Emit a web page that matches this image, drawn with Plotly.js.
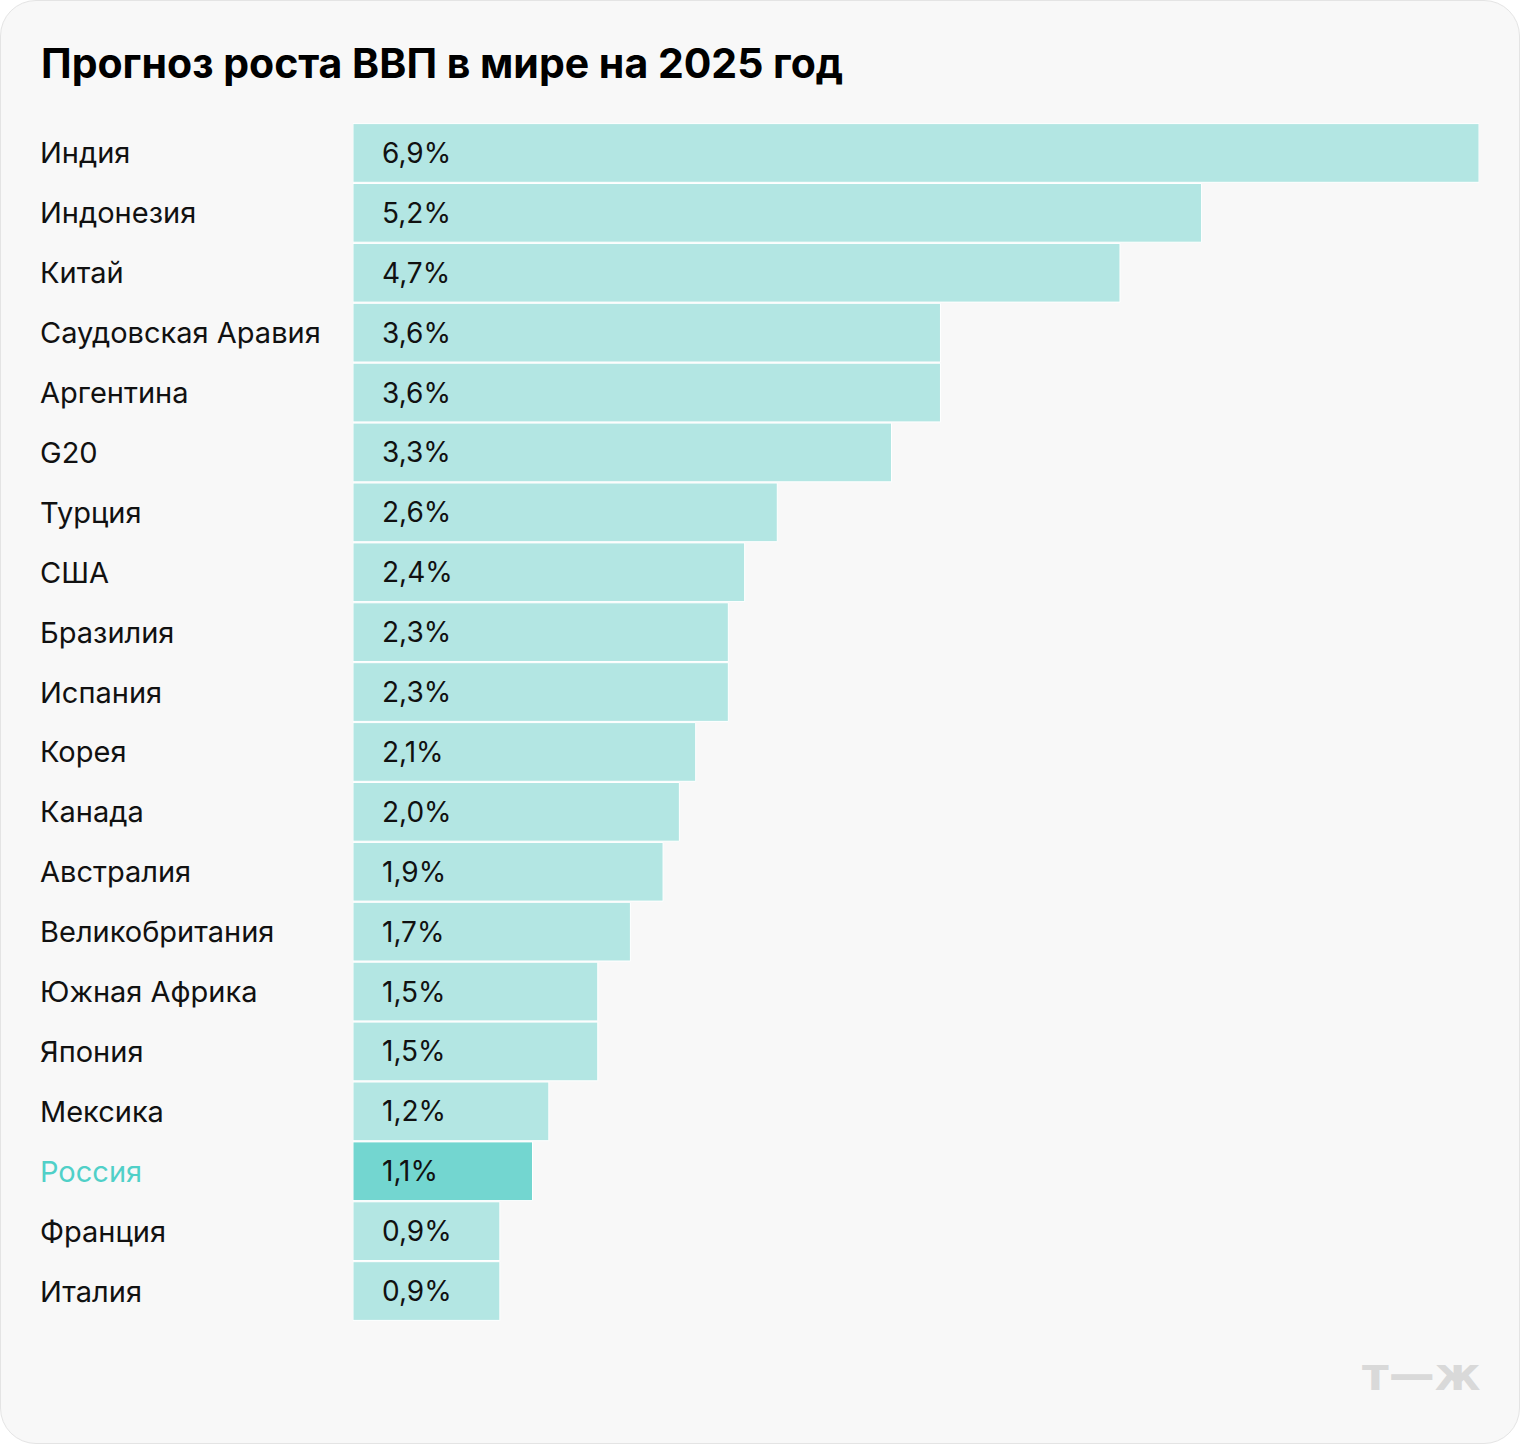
<!DOCTYPE html>
<html><head><meta charset="utf-8">
<script src="https://cdn.plot.ly/plotly-3.0.1.min.js"></script>
<style>
html,body{margin:0;padding:0;background:#ffffff;}
#wrap{position:absolute;left:0;top:0;width:1518px;height:1442px;border:1px solid #e4e4e4;border-radius:36px;background:#f8f8f8;overflow:hidden;}
#chart{width:1520px;height:1444px;position:absolute;left:-1px;top:-1px;}
</style></head>
<body><div id="wrap"><div id="chart"></div></div>
<script>
const countries = ["Индия","Индонезия","Китай","Саудовская Аравия","Аргентина","G20","Турция","США","Бразилия","Испания","Корея","Канада","Австралия","Великобритания","Южная Африка","Япония","Мексика","Россия","Франция","Италия"];
const growth = [6.9,5.2,4.7,3.6,3.6,3.3,2.6,2.4,2.3,2.3,2.1,2.0,1.9,1.7,1.5,1.5,1.2,1.1,0.9,0.9];
const highlight = "Россия";
const titleText = "Прогноз роста ВВП в мире на 2025 год";

const W=1520,H=1444,L=353,R=41,T=123,B=123;
const pw=W-L-R;
const fontFam = "Inter, Roboto, 'Noto Sans', sans-serif";
const colors = countries.map(c=>c===highlight?"#73d6d0":"#b3e6e3");
const fmt = v => v.toFixed(1).replace(".",",")+"%";

const ann = [];
countries.forEach((c,i)=>{
  ann.push({x:(38-L)/pw, xref:"paper", y:c, yref:"y", text:c, showarrow:false, xanchor:"left",
    font:{family:fontFam,size:29,color:c===highlight?"#50d0c8":"#111111"}});
  ann.push({x:0, xref:"x", y:c, yref:"y", text:fmt(growth[i]), showarrow:false, xanchor:"left", xshift:27,
    font:{family:fontFam,size:28,color:"#111111"}});
});
ann.push({x:1, xref:"paper", xanchor:"right", xshift:4, y:(H-1374-B)/(H-T-B), yref:"paper", yanchor:"middle",
  text:"<b>т—ж</b>", showarrow:false, font:{family:"'DejaVu Sans', sans-serif", size:46, color:"#d9d9d9"}});

Plotly.newPlot("chart",[{
  type:"bar", orientation:"h", x:growth, y:countries,
  marker:{color:colors, line:{color:"#ffffff", width:1}},
  hoverinfo:"none"
}],{
  width:W,height:H,
  margin:{l:L,r:R,t:T,b:B,pad:0},
  paper_bgcolor:"rgba(0,0,0,0)", plot_bgcolor:"rgba(0,0,0,0)",
  bargap:0.02,
  title:{text:"<b>"+titleText+"</b>", x:41/W, xanchor:"left", xref:"container", y:1-64/H, yref:"container", yanchor:"middle",
    font:{family:fontFam,size:41,color:"#000000"}},
  xaxis:{range:[0,6.9], visible:false, fixedrange:true},
  yaxis:{autorange:"reversed", showticklabels:false, showgrid:false, zeroline:false, showline:false, ticks:"", fixedrange:true},
  showlegend:false,
  annotations:ann
},{staticPlot:true});
</script></body></html>
